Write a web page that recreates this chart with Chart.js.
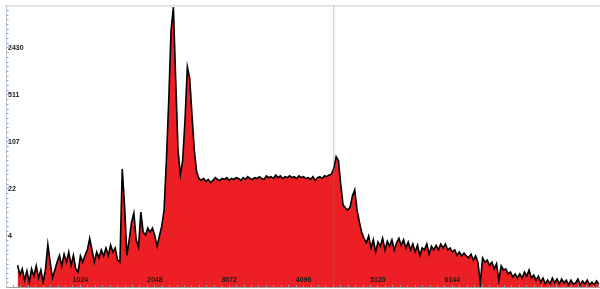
<!DOCTYPE html>
<html>
<head>
<meta charset="utf-8">
<script src="https://cdn.jsdelivr.net/npm/chart.js@4/dist/chart.umd.min.js"></script>
<style>
  html, body { margin: 0; padding: 0; background: #fff; }
  #wrap { width: 600px; height: 289px; }
</style>
</head>
<body>
<div id="wrap"><canvas id="spectrum"></canvas></div>
<script>
// channel axis
const firstChannel = 160;
const binWidth = 32;
const xMin = 0, xMax = 8176;
const cursorChannel = 4512;
const xTickLabels = [1024, 2048, 3072, 4096, 5120, 6144];

// counts axis (log)
const yMin = 0.876, yMax = 9770;
const yTickValues = [4.76, 22.6, 107.5, 511.5, 2431];
const yTickLabels = ['4', '22', '107', '511', '2430'];

// counts per bin
const lowCounts = [
  1.8, 1.3, 1.6, 1.1, 1.5, 1.03, 1.6, 1.26, 1.76, 1.18, 1.54, 1.03, 1.6,
  3.6, 2.0, 1.18, 1.54, 2.0, 2.5, 1.76, 2.6, 2.0, 2.8, 1.8, 2.5,
  1.6, 1.44, 2.45, 2.0, 2.5, 3.0, 4.4, 3.0, 2.0, 2.8, 2.3, 3.0, 2.45, 3.2, 2.5, 3.5, 2.8, 3.2, 2.14, 2.0
];
const peakCounts = [
  44, 13, 2.5, 4.2, 7.5, 10.2, 4.2, 3.3, 10.5, 5.4, 4.9, 6.2, 5.4, 6.2, 4.8, 3.4, 4.8, 6.6, 11.3, 59,
  433, 4400, 9400, 840, 82, 36, 59, 223, 1300, 900, 263, 82, 40, 32
];
const plateauCounts = [
  30, 32, 29, 31, 28, 30, 33, 31, 30, 32, 31, 33, 30, 32, 31, 33, 32, 30, 33, 31,
  34, 32, 31, 33, 32, 34, 32, 31, 35, 33, 34, 32, 36, 33, 35, 32, 34, 33, 35, 33,
  34, 32, 35, 33, 34, 32, 33, 31, 34, 30, 33, 34, 32, 35, 34, 36
];
const edgeCounts = [
  37, 45, 66, 58, 26, 13.3, 12, 11.3, 12.4, 18, 22, 11.3, 7.6, 5.4, 4.4,
  3.8, 4.76, 3.2, 4.2, 2.8, 3.9, 3.4, 4.4, 3.0, 4.0, 3.4, 4.2, 3.0, 3.8, 4.4, 3.5
];
const tailCounts = [
  4.2, 3.2, 3.9, 3.0, 3.65, 2.8, 3.5, 2.5, 3.2, 3.0, 3.65, 2.6, 3.4, 3.0, 3.5, 3.0, 3.65, 3.2, 3.65, 3.0,
  3.2, 2.8, 3.0, 2.5, 2.8, 2.45, 2.7, 2.45, 2.3, 2.6, 2.14, 2.45, 2.0,
  1.0, 2.3, 2.0, 2.14, 1.8, 2.0, 1.6, 1.9, 1.1, 1.76, 1.54, 1.6, 1.35, 1.44, 1.22, 1.35, 1.18, 1.35, 1.18, 1.44,
  1.26, 1.54, 1.18, 1.3, 1.1, 1.26, 1.03, 1.18, 0.97, 1.1, 0.97, 1.18, 1.0, 1.14, 0.97, 1.14, 1.0, 1.1, 0.94,
  1.1, 0.97, 1.0, 1.14, 0.94, 1.07, 0.97, 1.1, 0.94, 1.03, 0.94, 1.07, 0.97
];

const counts = [...lowCounts, ...peakCounts, ...plateauCounts, ...edgeCounts, ...tailCounts];
const points = counts.map((c, i) => ({ x: firstChannel + i * binWidth, y: c }));

// 10 small ticks per labelled step on both axes
const xTicks = (scale) => {
  const ticks = [];
  for (let k = 0; (k * 1024) / 10 <= xMax; k++) {
    const v = (k * 1024) / 10;
    ticks.push({ value: v, text: xTickLabels.includes(v) ? String(v) : '' });
  }
  scale.ticks = ticks;
};

const yTicks = (scale) => {
  const step = Math.log(yTickValues[4] / yTickValues[0]) / 40;
  const ticks = [];
  for (let j = -20; j <= 70; j++) {
    const v = yTickValues[0] * Math.exp(j * step);
    if (v < yMin || v > yMax) continue;
    const idx = j % 10 === 0 ? j / 10 : -1;
    const major = idx >= 0 && idx < 5;
    ticks.push({ value: major ? yTickValues[idx] : v, text: major ? yTickLabels[idx] : '' });
  }
  scale.ticks = ticks;
};

// no extra room for labels: they sit inside the plot
const flatX = (s) => { s.height = 2; s.paddingLeft = 0; s.paddingRight = 0; };
const flatY = (s) => { s.width = 0; s.paddingTop = 0; s.paddingBottom = 0; };

const labelFont = { family: 'Liberation Sans, Arial, sans-serif', size: 7, weight: 'bold' };

new Chart(document.getElementById('spectrum'), {
  type: 'line',
  data: {
    datasets: [
      {
        data: [{ x: cursorChannel, y: yMin }, { x: cursorChannel, y: yMax }],
        borderColor: 'rgba(120,120,120,0.45)',
        borderWidth: 1,
        pointRadius: 0,
        fill: false,
        order: 1,
      },
      {
        data: points,
        borderColor: '#000',
        borderWidth: 1.6,
        backgroundColor: 'rgb(236,32,36)',
        fill: 'start',
        pointRadius: 0,
        tension: 0,
        order: 2,
      },
    ],
  },
  options: {
    responsive: true,
    maintainAspectRatio: false,
    animation: false,
    events: [],
    layout: { padding: { left: 6, top: 6, right: 0, bottom: 0 } },
    plugins: { legend: { display: false }, tooltip: { enabled: false } },
    scales: {
      x: {
        type: 'linear',
        min: xMin,
        max: xMax,
        bounds: 'data',
        afterBuildTicks: xTicks,
        afterFit: flatX,
        grid: { drawOnChartArea: false, color: '#999', tickLength: -2, z: 1 },
        border: { color: '#a0a0a0', width: 1, z: 1 },
        ticks: {
          autoSkip: false,
          maxRotation: 0,
          mirror: true,
          padding: 3,
          color: '#1a1a1a',
          font: labelFont,
          z: 1,
          callback: (v, i, t) => t[i].text,
        },
      },
      xTop: {
        type: 'linear',
        position: 'top',
        min: xMin,
        max: xMax,
        afterFit: (s) => { s.height = 0; s.paddingLeft = 0; s.paddingRight = 0; },
        grid: { drawOnChartArea: false, drawTicks: false },
        border: { color: '#dcdcdc', width: 1.5 },
        ticks: { display: false },
      },
      y: {
        type: 'logarithmic',
        min: yMin,
        max: yMax,
        bounds: 'data',
        afterBuildTicks: yTicks,
        afterFit: flatY,
        grid: { drawOnChartArea: false, color: '#7fa6d0', tickLength: -2.5, z: 1 },
        border: { color: '#b8c4d0', width: 1, z: 1 },
        ticks: {
          autoSkip: false,
          mirror: true,
          padding: 2,
          color: '#1a1a1a',
          font: labelFont,
          z: 1,
          callback: (v, i, t) => t[i].text,
        },
      },
    },
  },
});
</script>
</body>
</html>
